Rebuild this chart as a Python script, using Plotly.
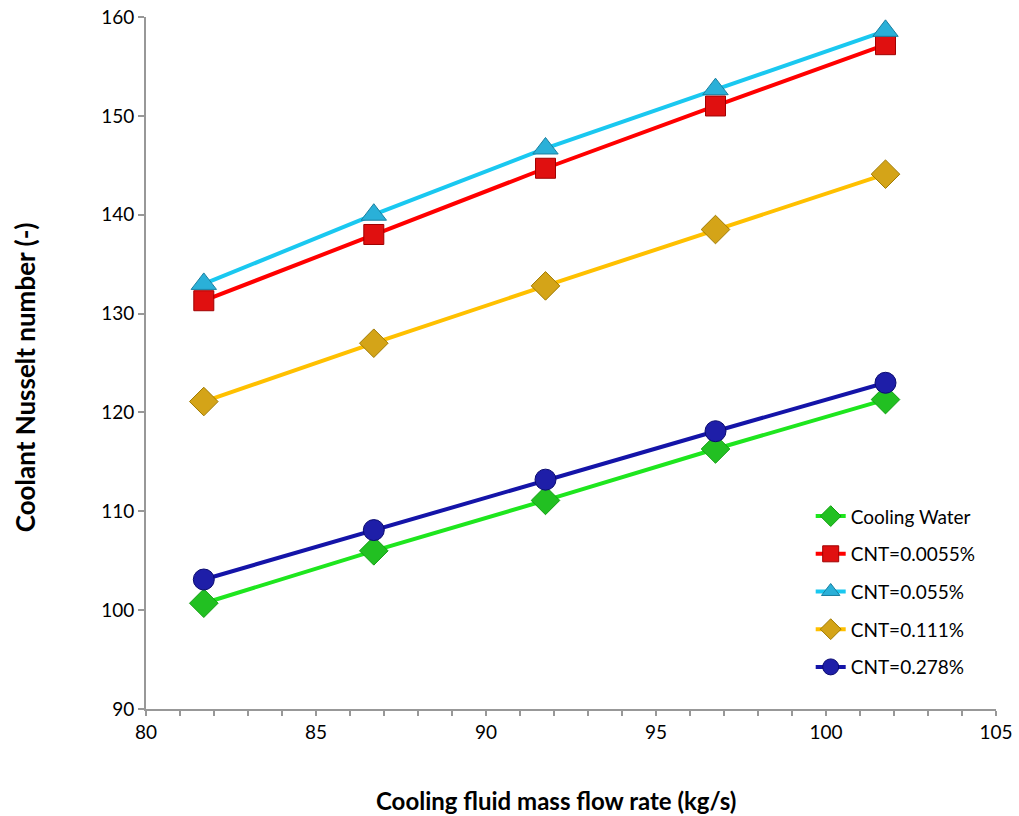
import plotly.graph_objects as go

flow_rate = [81.7, 86.7, 91.75, 96.75, 101.75]
cooling_water = [100.7, 106.0, 111.1, 116.3, 121.3]
cnt_0055 = [131.3, 138.0, 144.7, 151.0, 157.2]
cnt_055 = [133.0, 140.0, 146.7, 152.7, 158.6]
cnt_111 = [121.1, 127.0, 132.8, 138.5, 144.1]
cnt_278 = [103.1, 108.1, 113.2, 118.1, 123.0]

series = [
    ("Cooling Water", cooling_water, "#1EE61E", "diamond", "#12A012", 22),
    ("CNT=0.0055%", cnt_0055, "#FF0000", "square", "#A00000", 20),
    ("CNT=0.055%", cnt_055, "#1AC8F0", "triangle-up", "#1A7FA0", 22),
    ("CNT=0.111%", cnt_111, "#FFC000", "diamond", "#A07A00", 22),
    ("CNT=0.278%", cnt_278, "#1414A8", "circle", "#0A0A70", 21),
]
marker_fill = {"Cooling Water": "#22C022", "CNT=0.0055%": "#E01010",
               "CNT=0.055%": "#2AB0D8", "CNT=0.111%": "#D4A418",
               "CNT=0.278%": "#1E1EA8"}

fig = go.Figure()
for name, ys, color, sym, edge, size in series:
    fig.add_trace(go.Scatter(
        x=flow_rate, y=ys, name=name, mode="lines+markers",
        legendgroup=name,
        line=dict(color=color, width=4),
        marker=dict(symbol=sym, size=size, color=marker_fill[name],
                    line=dict(color=edge, width=1)),
    ))

font_family = "Lato, 'Open Sans', sans-serif"
fig.update_layout(
    width=1019, height=816,
    paper_bgcolor="white", plot_bgcolor="white",
    margin=dict(l=146, r=23, t=17, b=107),
    font=dict(family=font_family, color="black", size=19),
    legend=dict(x=0.782, y=0.306, xanchor="left", yanchor="top",
                font=dict(size=19), tracegroupgap=10,
                bgcolor="rgba(0,0,0,0)", traceorder="grouped"),
    xaxis=dict(range=[80, 105], dtick=5, tick0=80, showgrid=False,
               showline=True, linecolor="#989898", linewidth=2,
               ticks="outside", ticklen=5, tickcolor="#989898", tickwidth=2,
               minor=dict(dtick=1, ticks="outside", ticklen=5,
                          tickcolor="#989898", tickwidth=2),
               zeroline=False, tickfont=dict(size=19), automargin=False),
    yaxis=dict(range=[90, 160], dtick=10, showgrid=False,
               showline=True, linecolor="#989898", linewidth=2,
               ticks="outside", ticklen=6, tickcolor="#989898", tickwidth=2,
               zeroline=False, tickfont=dict(size=19), automargin=False),
    annotations=[
        dict(text="<b>Cooling fluid mass flow rate (kg/s)</b>",
             xref="paper", yref="paper", x=0.482, y=-0.132,
             xanchor="center", yanchor="middle", showarrow=False,
             font=dict(size=24)),
        dict(text="<b>Coolant Nusselt number (-)</b>",
             xref="paper", yref="paper", x=-0.143, y=0.48, textangle=-90,
             xanchor="center", yanchor="middle", showarrow=False,
             font=dict(size=26)),
    ],
)

fig.write_html(
    "out.html",
    config={"displayModeBar": False},
    post_script="document.body.style.margin='0';document.body.style.padding='0';document.documentElement.style.overflow='hidden';",
)
